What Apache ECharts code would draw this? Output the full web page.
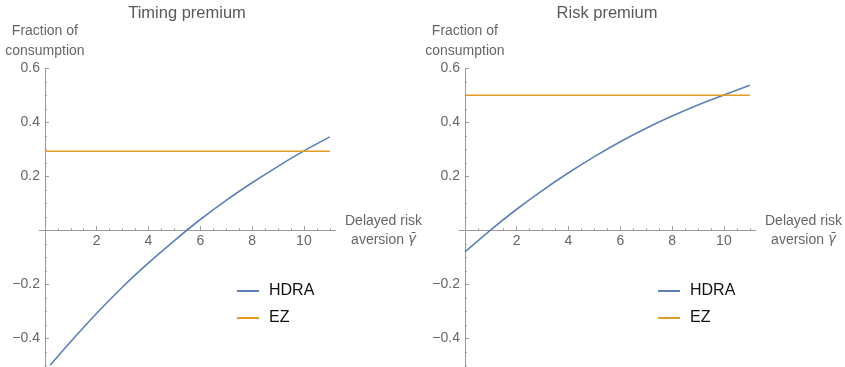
<!DOCTYPE html>
<html>
<head>
<meta charset="utf-8">
<script src="https://cdn.jsdelivr.net/npm/echarts@6/dist/echarts.min.js"></script>
<style>
html,body{margin:0;padding:0;background:#fff;}
#chart{width:845px;height:367px;}
</style>
</head>
<body>
<div id="chart"></div>
<script>
// ---- data ----
const titles = ['Timing premium', 'Risk premium'];
const seriesNames = ['HDRA', 'EZ'];
const xTiming = [0.2, 1, 2, 3, 4, 5, 6, 7, 8, 9, 10, 11];
const hdraTiming = [-0.50, -0.412, -0.307, -0.210, -0.121, -0.038, 0.040, 0.111, 0.176, 0.237, 0.294, 0.346];
const xRisk = [0, 1, 2, 3, 4, 5, 6, 7, 8, 9, 10, 11];
const hdraRisk = [-0.080, 0.002, 0.078, 0.148, 0.213, 0.273, 0.328, 0.378, 0.423, 0.464, 0.501, 0.537];
const ezX = [0, 11];
const ezTiming = [0.293, 0.293];
const ezRisk = [0.5, 0.5];
const xMajorTicks = [2, 4, 6, 8, 10];
const xMinorTicks = [0.5, 1, 1.5, 2.5, 3, 3.5, 4.5, 5, 5.5, 6.5, 7, 7.5, 8.5, 9, 9.5, 10.5, 11];
const yMajorTicks = [-0.4, -0.2, 0.2, 0.4, 0.6];
const yMinorTicks = [-0.5, -0.45, -0.35, -0.3, -0.25, -0.15, -0.1, -0.05, 0.05, 0.1, 0.15, 0.25, 0.3, 0.35, 0.45, 0.5, 0.55];
const yAxisName = 'Fraction of\nconsumption';
const xAxisName = 'Delayed risk\naversion {g|\u03B3\u0304}';

const FONT = '"Liberation Sans", Arial, sans-serif';
const BLUE = '#5E81B5';
const ORANGE = '#E19C24';
const AXIS = '#9a9a9a';
const LABEL = '#666666';

const X_MIN = -0.22, X_MAX = 11.22, Y_MIN = -0.51, Y_MAX = 0.6;
const GRID_TOP = 68.3, GRID_W = 296.3, GRID_H = 299.7;

const chart = echarts.init(document.getElementById('chart'), null, {renderer: 'canvas'});

const gridLefts = [39.2, 459.2];
const grids = [];
gridLefts.forEach(l => {
  grids.push({left: l, top: GRID_TOP, width: GRID_W, height: GRID_H, containLabel: false, outerBoundsMode: 'none'});
  // upper part of the plot (y >= 0): used only to place the x tick labels under the zero line
  grids.push({left: l, top: GRID_TOP, width: GRID_W, height: GRID_H * Y_MAX / (Y_MAX - Y_MIN), containLabel: false, outerBoundsMode: 'none'});
});

const xAxes = [], yAxes = [];
[0, 1].forEach(g => {
  const zeroIdx = 3 * g;
  xAxes.push({
    type: 'value', gridIndex: 2 * g, min: X_MIN, max: X_MAX, position: 'bottom',
    name: xAxisName, nameLocation: 'end', nameGap: 48,
    nameTextStyle: {fontFamily: FONT, fontSize: 14, color: LABEL, align: 'center', verticalAlign: 'middle', lineHeight: 19,
      rich: {g: {fontFamily: '"DejaVu Sans"', fontStyle: 'italic', fontSize: 13.5, color: LABEL, lineHeight: 19}}},
    axisLine: {show: true, onZero: true, onZeroAxisIndex: zeroIdx, lineStyle: {color: AXIS, width: 1}},
    axisTick: {show: true, inside: true, length: 4, customValues: xMajorTicks, lineStyle: {color: AXIS}},
    axisLabel: {show: false},
    splitLine: {show: false}
  });
  xAxes.push({
    type: 'value', gridIndex: 2 * g, min: X_MIN, max: X_MAX, position: 'bottom',
    axisLine: {show: false, onZero: true, onZeroAxisIndex: zeroIdx},
    axisTick: {show: true, inside: true, length: 2, customValues: xMinorTicks, lineStyle: {color: AXIS}},
    axisLabel: {show: false}, splitLine: {show: false}
  });
  xAxes.push({
    type: 'value', gridIndex: 2 * g + 1, min: X_MIN, max: X_MAX, position: 'bottom',
    axisLine: {show: false, onZero: false},
    axisTick: {show: false},
    axisLabel: {show: true, customValues: xMajorTicks, margin: 4, fontFamily: FONT, fontSize: 14, color: LABEL,
      formatter: v => String(v)},
    splitLine: {show: false}
  });

  yAxes.push({
    type: 'value', gridIndex: 2 * g, min: Y_MIN, max: Y_MAX, position: 'left',
    name: yAxisName, nameLocation: 'end', nameGap: 4,
    nameTextStyle: {fontFamily: FONT, fontSize: 14, color: LABEL, align: 'center', verticalAlign: 'bottom', lineHeight: 20},
    axisLine: {show: true, onZero: true, onZeroAxisIndex: zeroIdx, lineStyle: {color: AXIS, width: 1}},
    axisTick: {show: true, inside: true, length: 4, customValues: yMajorTicks, lineStyle: {color: AXIS}},
    axisLabel: {show: true, customValues: yMajorTicks, margin: -0.8, fontFamily: FONT, fontSize: 14, color: LABEL,
      formatter: v => v.toFixed(1).replace('-', '\u2212')},
    splitLine: {show: false}
  });
  yAxes.push({
    type: 'value', gridIndex: 2 * g, min: Y_MIN, max: Y_MAX, position: 'left',
    axisLine: {show: false, onZero: true, onZeroAxisIndex: zeroIdx},
    axisTick: {show: true, inside: true, length: 2, customValues: yMinorTicks, lineStyle: {color: AXIS}},
    axisLabel: {show: false}, splitLine: {show: false}
  });
  yAxes.push({
    type: 'value', gridIndex: 2 * g + 1, min: 0, max: Y_MAX, show: false
  });
});

function pairs(xs, ys) { return xs.map((x, i) => [x, ys[i]]); }

const lineCommon = {type: 'line', showSymbol: false, symbol: 'none', smooth: 0.25};
const series = [
  Object.assign({}, lineCommon, {name: seriesNames[0], xAxisIndex: 0, yAxisIndex: 0, data: pairs(xTiming, hdraTiming),
    lineStyle: {color: BLUE, width: 1.6}, itemStyle: {color: BLUE}}),
  Object.assign({}, lineCommon, {name: seriesNames[1], xAxisIndex: 0, yAxisIndex: 0, data: pairs(ezX, ezTiming),
    lineStyle: {color: ORANGE, width: 1.6}, itemStyle: {color: ORANGE}}),
  Object.assign({}, lineCommon, {name: seriesNames[0], xAxisIndex: 3, yAxisIndex: 3, data: pairs(xRisk, hdraRisk),
    lineStyle: {color: BLUE, width: 1.6}, itemStyle: {color: BLUE}}),
  Object.assign({}, lineCommon, {name: seriesNames[1], xAxisIndex: 3, yAxisIndex: 3, data: pairs(ezX, ezRisk),
    lineStyle: {color: ORANGE, width: 1.6}, itemStyle: {color: ORANGE}})
];

const legendBase = {
  orient: 'vertical', top: 282, itemWidth: 22, itemHeight: 2, itemGap: 9, icon: 'rect', padding: 0,
  data: seriesNames, selectedMode: false,
  textStyle: {fontFamily: FONT, fontSize: 16, color: '#111', lineHeight: 18, padding: [0, 0, 0, 5]}
};

chart.setOption({
  animation: false,
  backgroundColor: '#fff',
  title: [
    {text: titles[0], left: 187, top: 5, padding: 0, textAlign: 'center',
     textStyle: {fontFamily: FONT, fontSize: 16.5, fontWeight: 'normal', color: '#5a5a5a'}},
    {text: titles[1], left: 607, top: 5, padding: 0, textAlign: 'center',
     textStyle: {fontFamily: FONT, fontSize: 16.5, fontWeight: 'normal', color: '#5a5a5a'}}
  ],
  legend: [
    Object.assign({}, legendBase, {left: 237}),
    Object.assign({}, legendBase, {left: 658})
  ],
  grid: grids,
  xAxis: xAxes,
  yAxis: yAxes,
  series: series
});
</script>
</body>
</html>
